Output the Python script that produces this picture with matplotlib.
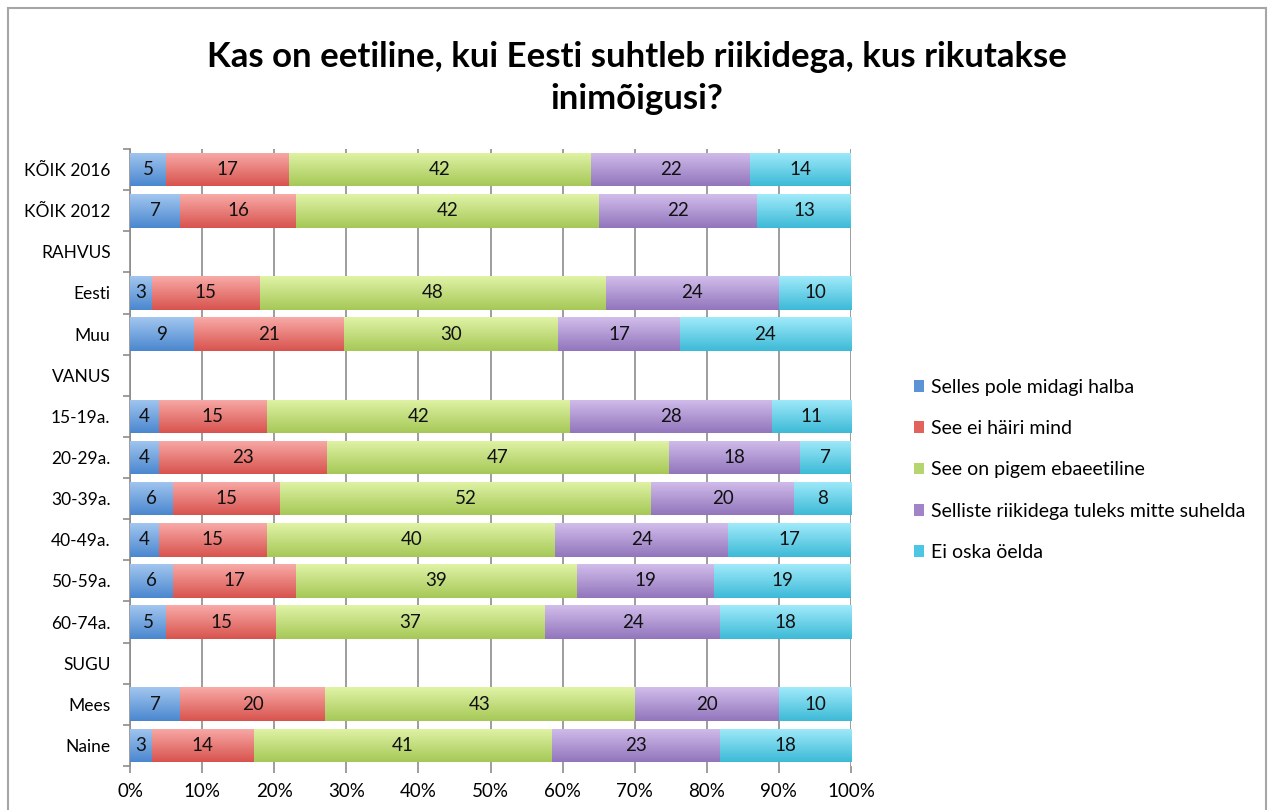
import matplotlib
matplotlib.use("Agg")
import matplotlib.pyplot as plt
import numpy as np
from matplotlib.colors import LinearSegmentedColormap
from matplotlib.patches import Rectangle

plt.rcParams['font.family'] = ['Lato', 'DejaVu Sans']

categories = ["KÕIK 2016", "KÕIK 2012", "RAHVUS", "Eesti", "Muu", "VANUS",
              "15-19a.", "20-29a.", "30-39a.", "40-49a.", "50-59a.", "60-74a.",
              "SUGU", "Mees", "Naine"]
series_names = ["Selles pole midagi halba", "See ei häiri mind",
                "See on pigem ebaeetiline", "Selliste riikidega tuleks mitte suhelda",
                "Ei oska öelda"]
# None = header row (no bar)
selles_pole = [5, 7, None, 3, 9, None, 4, 4, 6, 4, 6, 5, None, 7, 3]
ei_hairi = [17, 16, None, 15, 21, None, 15, 23, 15, 15, 17, 15, None, 20, 14]
pigem_ebaeetiline = [42, 42, None, 48, 30, None, 42, 47, 52, 40, 39, 37, None, 43, 41]
mitte_suhelda = [22, 22, None, 24, 17, None, 28, 18, 20, 24, 19, 24, None, 20, 23]
ei_oska = [14, 13, None, 10, 24, None, 11, 7, 8, 17, 19, 18, None, 10, 18]
title = "Kas on eetiline, kui Eesti suhtleb riikidega, kus rikutakse\ninimõigusi?"

series = [selles_pole, ei_hairi, pigem_ebaeetiline, mitte_suhelda, ei_oska]
grad_colors = [("#a2c6ef", "#4a87cf"), ("#f8aaa7", "#d8534e"), ("#e0f3a6", "#a6c857"),
               ("#d1bdeb", "#9275bc"), ("#a0eafa", "#3dbad7")]
legend_colors = ["#5b93d6", "#e2625d", "#b5d66e", "#a184c8", "#4cc6e2"]

fig = plt.figure(figsize=(12.69, 8.10), dpi=100)
fig.patches.append(Rectangle((8/1269, -0.1), (1266-8)/1269, 1.1 - 8/810,
                             transform=fig.transFigure, fill=False,
                             edgecolor="#a6a6a6", linewidth=1.5))
ax = fig.add_axes([130/1269, 1 - 766/810, 721/1269, 617/810])

n = len(categories)
ypos = np.arange(n)
bar_h = 0.82
grad = np.linspace(0, 1, 64).reshape(-1, 1)

for i in range(n):
    vals = [s[i] for s in series]
    if vals[0] is None:
        continue
    total = sum(vals)
    left = 0.0
    for k, v in enumerate(vals):
        w = v / total * 100
        bar = ax.barh(ypos[i], w, left=left, height=bar_h, color="none",
                      edgecolor="none", zorder=3)[0]
        cmap = LinearSegmentedColormap.from_list("g", [grad_colors[k][0], grad_colors[k][1]])
        im = ax.imshow(grad, cmap=cmap, aspect="auto", origin="upper",
                       extent=[left, left + w, ypos[i] + bar_h/2, ypos[i] - bar_h/2],
                       zorder=3, interpolation="bilinear")
        im.set_clip_path(bar)
        ax.text(left + w/2, ypos[i], f"{v}", ha="center", va="center",
                fontsize=13.5, color="#111111", zorder=4)
        left += w

ax.set_xlim(0, 100)
ax.set_ylim(n - 0.5, -0.5)
ax.set_xticks(np.arange(0, 101, 10))
ax.set_xticklabels([f"{t}%" for t in range(0, 101, 10)], fontsize=13.5)
ax.set_yticks(ypos)
ax.set_yticklabels(categories, fontsize=12.5)
ax.set_yticks(np.arange(-0.5, n, 1), minor=True)
ax.tick_params(axis="y", which="major", length=0, pad=14)
ax.tick_params(axis="y", which="minor", length=5, color="#8c8c8c", width=1.2, direction="out")
ax.tick_params(axis="x", length=5, color="#8c8c8c", width=1.2, direction="out", pad=7)
ax.grid(axis="x", color="#8c8c8c", linewidth=1.2, zorder=0)
ax.set_axisbelow(True)
for sp in ["top", "right"]:
    ax.spines[sp].set_visible(False)
ax.spines["left"].set_color("#8c8c8c")
ax.spines["left"].set_linewidth(1.2)
ax.spines["bottom"].set_visible(False)

fig.text(637/1269, 1 - 78/810, title, ha="center", va="center", fontsize=25,
         fontweight="bold", linespacing=1.35)

handles = [Rectangle((0, 0), 1, 1, facecolor=c, edgecolor="none") for c in legend_colors]
fig.legend(handles, series_names, loc="center left", bbox_to_anchor=(896/1269, 1 - 470/810),
           frameon=False, fontsize=14, handlelength=0.55, handleheight=0.55,
           handletextpad=0.35, labelspacing=1.25)

fig.savefig("out.png", dpi=100)
